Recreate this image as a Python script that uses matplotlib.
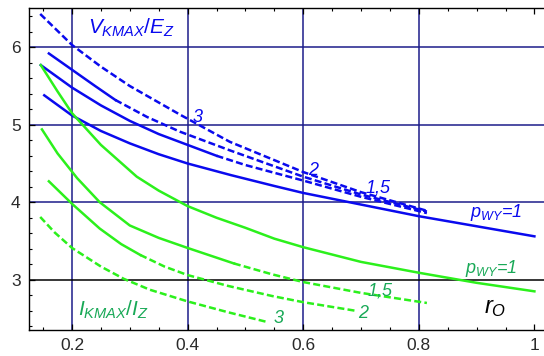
import numpy as np
import matplotlib
matplotlib.use("Agg")
import matplotlib.pyplot as plt
from matplotlib.ticker import MultipleLocator, FixedLocator

plt.rcParams['font.family'] = ['Liberation Sans', 'DejaVu Sans']
plt.rcParams['mathtext.fontset'] = 'custom'
plt.rcParams['mathtext.rm'] = 'Liberation Sans'
plt.rcParams['mathtext.it'] = 'Liberation Sans:italic'

# V_KMAX/E_Z curves (blue)
v_x_p1 = [0.152, 0.2, 0.25, 0.3, 0.35, 0.4, 0.475, 0.55, 0.6, 0.7, 0.8, 0.9, 1.0]
v_y_p1 = [5.38, 5.12, 4.92, 4.76, 4.62, 4.50, 4.35, 4.21, 4.12, 3.97, 3.82, 3.69, 3.56]

v_x_p15 = [0.146, 0.2, 0.25, 0.3, 0.35, 0.4, 0.45, 0.5, 0.6, 0.7, 0.814]
v_y_p15 = [5.77, 5.48, 5.25, 5.05, 4.88, 4.74, 4.60, 4.48, 4.28, 4.07, 3.86]

v_x_p2 = [0.16, 0.2, 0.24, 0.275, 0.33, 0.387, 0.473, 0.6, 0.7, 0.814]
v_y_p2 = [5.92, 5.71, 5.50, 5.32, 5.10, 4.91, 4.67, 4.33, 4.10, 3.88]

v_x_p3 = [0.145, 0.2, 0.25, 0.3, 0.387, 0.473, 0.6, 0.7, 0.814]
v_y_p3 = [6.43, 6.03, 5.75, 5.50, 5.13, 4.78, 4.39, 4.13, 3.89]

# I_KMAX/I_Z curves (green)
i_x_p1 = [0.146, 0.175, 0.2, 0.25, 0.312, 0.35, 0.4, 0.45, 0.5, 0.55, 0.6, 0.7, 0.8, 0.9, 1.0]
i_y_p1 = [5.77, 5.43, 5.15, 4.74, 4.33, 4.15, 3.95, 3.80, 3.67, 3.53, 3.42, 3.23, 3.09, 2.96, 2.85]

i_x_p15 = [0.148, 0.175, 0.209, 0.248, 0.3, 0.35, 0.4, 0.48, 0.546, 0.6, 0.7, 0.814]
i_y_p15 = [4.94, 4.63, 4.31, 4.00, 3.70, 3.54, 3.41, 3.21, 3.07, 2.97, 2.83, 2.70]

i_x_p2 = [0.16, 0.2, 0.248, 0.285, 0.318, 0.36, 0.4, 0.47, 0.546, 0.6, 0.69]
i_y_p2 = [4.27, 3.98, 3.66, 3.46, 3.32, 3.17, 3.06, 2.92, 2.79, 2.71, 2.60]

i_x_p3 = [0.145, 0.17, 0.2, 0.25, 0.29, 0.335, 0.4, 0.47, 0.54]
i_y_p3 = [3.81, 3.61, 3.41, 3.17, 3.01, 2.87, 2.72, 2.58, 2.45]

x_ticks = [0.2, 0.4, 0.6, 0.8, 1.0]
x_tick_labels = ['0.2', '0.4', '0.6', '0.8', '1']
y_ticks = [3, 4, 5, 6]

BLUE = '#0a0aee'
GREEN = '#2cf01c'
GREEN_TEXT = '#19a957'
GRID = '#1c1c8a'
DASH = (2.8, 1.3)


def draw_curve(ax, xs, ys, color, solid_until=None):
    # solid part up to solid_until (a point in the data), dashed after it
    xs = np.array(xs)
    ys = np.array(ys)
    if solid_until is None:
        ax.plot(xs, ys, color=color, lw=1.8)
        return
    k = int(np.argmin(np.abs(xs - solid_until)))
    if k > 0:
        ax.plot(xs[:k + 1], ys[:k + 1], color=color, lw=1.8)
    ax.plot(xs[k:], ys[k:], color=color, lw=1.8, ls=(0, DASH))


fig = plt.figure(figsize=(5.44, 3.56), dpi=100)
ax = fig.add_axes([29 / 544, 26 / 356, 515 / 544, 322 / 356])
ax.set_xlim(0.1256, 1.0166)
ax.set_ylim(2.351, 6.507)

for gx in [0.2, 0.4, 0.6, 0.8]:
    ax.axvline(gx, color=GRID, lw=1.1, zorder=1)
for gy in [4, 5, 6]:
    ax.axhline(gy, color=GRID, lw=1.1, zorder=1)
ax.axhline(3, color='black', lw=1.1, zorder=1)

draw_curve(ax, v_x_p1, v_y_p1, BLUE)
draw_curve(ax, v_x_p15, v_y_p15, BLUE, solid_until=0.45)
draw_curve(ax, v_x_p2, v_y_p2, BLUE, solid_until=0.275)
draw_curve(ax, v_x_p3, v_y_p3, BLUE, solid_until=0.145)

draw_curve(ax, i_x_p1, i_y_p1, GREEN)
draw_curve(ax, i_x_p15, i_y_p15, GREEN, solid_until=0.48)
draw_curve(ax, i_x_p2, i_y_p2, GREEN, solid_until=0.318)
draw_curve(ax, i_x_p3, i_y_p3, GREEN, solid_until=0.145)

# labels on the curves
ax.text(0.228, 6.18, r'$V_{KMAX}\mathit{/}E_Z$', color=BLUE, fontsize=15, va='baseline')
ax.text(0.408, 5.04, '3', color=BLUE, fontsize=13, style='italic', va='baseline')
ax.text(0.608, 4.35, '2', color=BLUE, fontsize=13, style='italic', va='baseline')
ax.text(0.707, 4.13, '1,5', color=BLUE, fontsize=13, style='italic', va='baseline')
ax.text(0.889, 3.81, r'$p_{WY}$=1', color=BLUE, fontsize=13, style='italic', va='baseline')

ax.text(0.21, 2.53, r'$I_{KMAX}\mathit{/}I_Z$', color=GREEN_TEXT, fontsize=15, va='baseline')
ax.text(0.548, 2.44, '3', color=GREEN_TEXT, fontsize=13, style='italic', va='baseline')
ax.text(0.695, 2.51, '2', color=GREEN_TEXT, fontsize=13, style='italic', va='baseline')
ax.text(0.712, 2.80, '1,5', color=GREEN_TEXT, fontsize=13, style='italic', va='baseline')
ax.text(0.88, 3.09, r'$p_{WY}$=1', color=GREEN_TEXT, fontsize=13, style='italic', va='baseline')

ax.text(0.913, 2.57, r'$r_O$', color='black', fontsize=17, va='baseline')

ax.xaxis.set_major_locator(FixedLocator(x_ticks))
ax.set_xticklabels(x_tick_labels)
ax.xaxis.set_minor_locator(MultipleLocator(0.05))
ax.yaxis.set_major_locator(FixedLocator(y_ticks))
ax.yaxis.set_minor_locator(MultipleLocator(0.2))
ax.tick_params(which='both', direction='in', top=True, right=False,
               labelsize=12.5, labelcolor='#2a2a2a', color='black')
ax.tick_params(which='major', length=4, width=0.9)
ax.tick_params(which='minor', length=2.5, width=0.8)
ax.tick_params(axis='x', pad=6)
ax.tick_params(axis='y', pad=6)
ax.spines['right'].set_visible(False)
for s in ['left', 'bottom', 'top']:
    ax.spines[s].set_linewidth(1.0)

fig.savefig('out.png', dpi=100)
